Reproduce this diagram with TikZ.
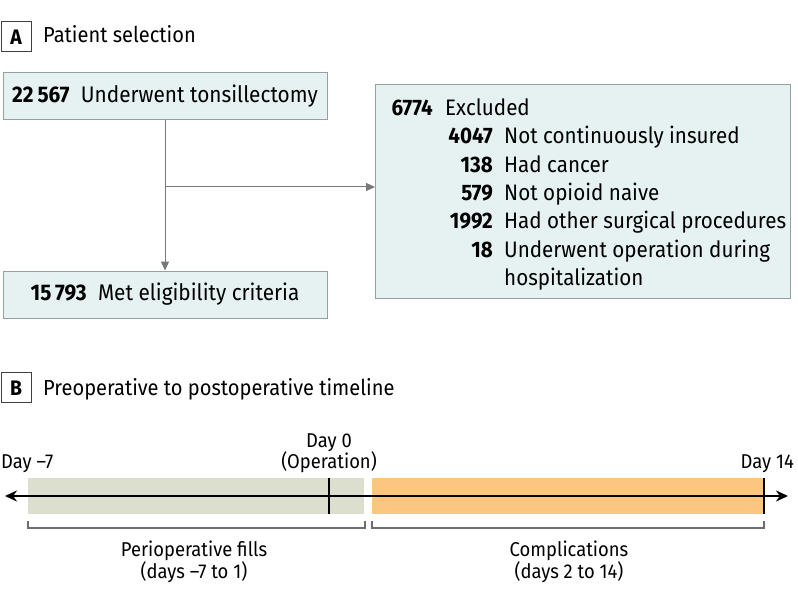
\documentclass[tikz,border=0pt]{standalone}
\usepackage{fontspec}
\setmainfont{Fira Sans}[FakeStretch=0.92]
\usetikzlibrary{arrows.meta}
\definecolor{boxfill}{RGB}{230,242,242}
\definecolor{boxdraw}{RGB}{150,160,160}
\definecolor{connc}{RGB}{120,120,120}
\definecolor{preband}{RGB}{221,223,206}
\definecolor{postband}{RGB}{253,198,128}
\definecolor{bracketc}{RGB}{110,110,110}
\begin{document}
\begin{tikzpicture}[x=1pt,y=-1pt,
  flowbox/.style={draw=boxdraw, fill=boxfill, line width=0.9pt, inner sep=0pt, rectangle, font=\fontsize{22.6}{26}\selectfont},
  panel/.style={draw=black!75, line width=1pt, minimum width=30pt, minimum height=30pt, inner sep=0pt, font=\fontsize{21}{24}\selectfont\bfseries},
  title/.style={anchor=base west, inner sep=0pt, font=\fontsize{21.8}{26}\selectfont},
  connector/.style={draw=connc, line width=1pt, -{Triangle[length=9pt,width=8pt]}},
  num/.style={anchor=base east, inner sep=0pt, font=\fontsize{22.4}{26}\selectfont\bfseries},
  lab/.style={anchor=base west, inner sep=0pt, font=\fontsize{22.4}{26}\selectfont},
  tlab/.style={inner sep=0pt, font=\fontsize{20}{24}\selectfont},
  band/.style={anchor=north west, inner sep=0pt, minimum height=36pt},
  bracket/.style={draw=bracketc, line width=1.1pt},
  tick/.style={draw=black, line width=2pt}
]
\useasboundingbox (0,0) rectangle (798,609);

% Panel A
\node[panel] (pA) at (16,37) {A};
\node[title] (tA) at (43,43) {Patient selection};

\node[flowbox, minimum width=324pt, minimum height=47pt] (top) at (165,96)
  {\textbf{22\,567}\enspace Underwent tonsillectomy};
\node[flowbox, minimum width=324pt, minimum height=47pt] (met) at (165,294.5)
  {\textbf{15\,793}\enspace Met eligibility criteria};
\node[flowbox, minimum width=415pt, minimum height=214pt, anchor=north west] (excl) at (375,84) {};

\coordinate (split) at (165,187);
\draw[connector] (top.south) -- (met.north);
\draw[connector] (split) -- (excl.west |- split);

\node[num] (n0) at (433,115.7) {6774};
\node[lab] (l0) at (445,115.7) {Excluded};
\node[num] (n1) at (493,144) {4047};
\node[lab] (l1) at (504,144) {Not continuously insured};
\node[num] (n2) at (493,172.3) {138};
\node[lab] (l2) at (504,172.3) {Had cancer};
\node[num] (n3) at (493,200.6) {579};
\node[lab] (l3) at (504,200.6) {Not opioid naive};
\node[num] (n4) at (493,229) {1992};
\node[lab] (l4) at (504,229) {Had other surgical procedures};
\node[num] (n5) at (493,257.3) {18};
\node[lab] (l5) at (504,257.3) {Underwent operation during};
\node[lab] (l6) at (504,285.6) {hospitalization};

% Panel B
\node[panel] (pB) at (16,388) {B};
\node[title] (tB) at (43,396) {Preoperative to postoperative timeline};

\node[band, fill=preband, minimum width=336pt] (pre) at (28,478) {};
\node[band, fill=postband, minimum width=393pt] (post) at (372,478) {};

\coordinate (tl) at (5,496);
\coordinate (tr) at (788,496);
\draw[line width=2.4pt, {Stealth[length=12pt,width=11pt]}-{Stealth[length=12pt,width=11pt]}] (tl) -- (tr);

\coordinate (d0) at (329,478);
\coordinate (d14) at (764,478);
\draw[tick] (d0) -- ++(0,36);
\draw[tick] (d14) -- ++(0,36);

\draw[bracket] (28,521) -- (28,528) -- (365,528) -- (365,521);
\draw[bracket] (372,521) -- (372,528) -- (764,528) -- (764,521);

\node[tlab, anchor=base west] (dm7) at (1,468) {Day –7};
\node[tlab, anchor=base] (dz) at (329,447) {Day 0};
\node[tlab, anchor=base] (op) at (329,468) {(Operation)};
\node[tlab, anchor=base east] (d14l) at (794,468) {Day 14};

\node[tlab, anchor=base] (pf1) at (194,556) {Perioperative fills};
\node[tlab, anchor=base] (pf2) at (194,578) {(days –7 to 1)};
\node[tlab, anchor=base] (c1) at (569,556) {Complications};
\node[tlab, anchor=base] (c2) at (569,578) {(days 2 to 14)};
\end{tikzpicture}
\end{document}
